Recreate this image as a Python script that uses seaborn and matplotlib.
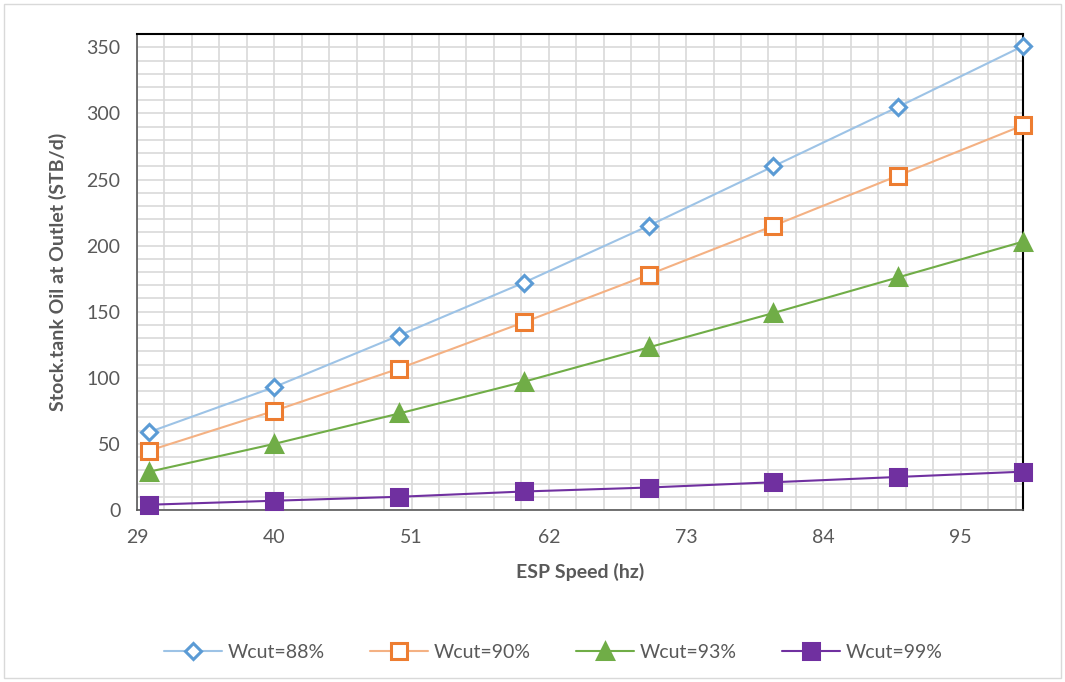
import numpy as np
import pandas as pd
import matplotlib
matplotlib.use("Agg")
import matplotlib.pyplot as plt
from matplotlib.ticker import FixedLocator
from matplotlib.patches import Rectangle
import seaborn as sns

# Data
speed = [30, 40, 50, 60, 70, 80, 90, 100]
wcut_88 = [59, 93, 132, 172, 215, 260, 305, 351]
wcut_90 = [45, 75, 107, 142, 178, 215, 253, 291]
wcut_93 = [29, 50, 73, 97, 123, 149, 176, 203]
wcut_99 = [4, 7, 10, 14, 17, 21, 25, 29]
labels = ["Wcut=88%", "Wcut=90%", "Wcut=93%", "Wcut=99%"]
x_ticks = [29, 40, 51, 62, 73, 84, 95]
y_ticks = [0, 50, 100, 150, 200, 250, 300, 350]

sns.set_theme(style="white")
plt.rcParams['font.family'] = ['Lato', 'DejaVu Sans']

fig = plt.figure(figsize=(10.65, 6.82), dpi=100)
ax = fig.add_axes([0.1286, 0.2522, 0.832, 0.6978])

# outer frame of the chart area
fig.patches.append(Rectangle((0.004, 0.006), 0.992, 0.988, transform=fig.transFigure,
                             fill=False, edgecolor="#D9D9D9", linewidth=1))

# (series, line colour, marker, marker face, marker edge, size)
styles = [
    (wcut_88, "#9DC3E6", "D", "white", "#5B9BD5", 8),
    (wcut_90, "#F4B183", "s", "white", "#ED7D31", 11),
    (wcut_93, "#70AD47", "^", "#70AD47", "#70AD47", 12),
    (wcut_99, "#7030A0", "s", "#7030A0", "#7030A0", 11),
]

for (vals, lc, mk, mfc, mec, ms), lab in zip(styles, labels):
    df = pd.DataFrame({"speed": speed, "oil": vals})
    sns.lineplot(data=df, x="speed", y="oil", ax=ax, color=lc, linewidth=1.5,
                 marker=mk, markersize=ms, markerfacecolor=mfc, markeredgecolor=mec,
                 markeredgewidth=2.2, label=lab, zorder=3, clip_on=False)

ax.set_xlim(29, 100)
ax.set_ylim(0, 360)
ax.xaxis.set_major_locator(FixedLocator(x_ticks))
ax.xaxis.set_minor_locator(FixedLocator([29 + 2.2 * i for i in range(33)]))
ax.yaxis.set_major_locator(FixedLocator(y_ticks))
ax.yaxis.set_minor_locator(FixedLocator(list(range(0, 361, 10))))
ax.grid(which="both", color="#D9D9D9", linewidth=1.2)
ax.set_axisbelow(True)
ax.tick_params(which="both", length=0, labelsize=14, labelcolor="#595959")
ax.tick_params(axis="x", pad=14)
ax.tick_params(axis="y", pad=12)

for side in ["left", "bottom"]:
    ax.spines[side].set_color("#595959")
    ax.spines[side].set_linewidth(1.2)
for side in ["top", "right"]:
    ax.spines[side].set_color("black")
    ax.spines[side].set_linewidth(1.5)

ax.set_xlabel("ESP Speed (hz)", fontsize=14, fontweight="bold", color="#595959", labelpad=12)
ax.set_ylabel("Stock.tank Oil at Outlet (STB/d)", fontsize=14, fontweight="bold",
              color="#595959", labelpad=14)

ax.legend(loc="upper center", bbox_to_anchor=(0.47, -0.245), ncol=4, frameon=False,
          fontsize=14, labelcolor="#595959", handlelength=3, columnspacing=2.3,
          handletextpad=0.3)

fig.savefig("out.png", dpi=100)
